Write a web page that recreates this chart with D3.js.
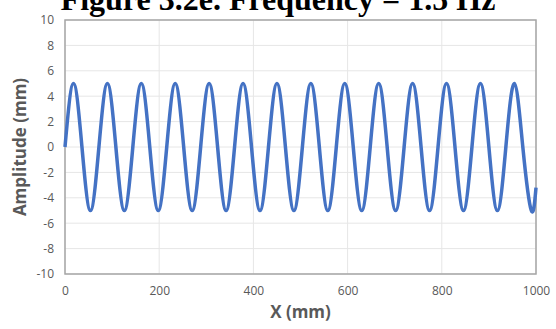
<!DOCTYPE html>
<html>
<head>
<meta charset="utf-8">
<script src="https://cdn.jsdelivr.net/npm/d3@7"></script>
<style>
  body { margin: 0; background: #fff; }
  svg { display: block; }
</style>
</head>
<body>
<svg id="chart"></svg>
<script>
// values: zero crossings, peaks and troughs every quarter period
const xValues = [0, 18, 36, 54, 72, 90, 108, 126, 144, 162, 180, 198, 216, 234, 252, 270,
  288, 306, 324, 342, 360, 378, 396, 414, 432, 450, 468, 486, 504, 522, 540, 558,
  576, 594, 612, 630, 648, 666, 684, 702, 720, 738, 756, 774, 792, 810, 828, 846,
  864, 882, 900, 918, 936, 954, 972, 990, 1000];
const amplitude = [0, 5, 0, -5, 0, 5, 0, -5, 0, 5, 0, -5, 0, 5, 0, -5,
  0, 5, 0, -5, 0, 5, 0, -5, 0, 5, 0, -5, 0, 5, 0, -5,
  0, 5, 0, -5, 0, 5, 0, -5, 0, 5, 0, -5, 0, 5, 0, -5,
  0, 5, 0, -5, 0, 5, 0, -5, -3.2];
const xTicks = [0, 200, 400, 600, 800, 1000];
const yTicks = [-10, -8, -6, -4, -2, 0, 2, 4, 6, 8, 10];

const W = 556, H = 329;
const margin = { top: 20, right: 20, bottom: 55, left: 65 };
const width = W - margin.left - margin.right;
const height = H - margin.top - margin.bottom;

const svg = d3.select('#chart').attr('width', W).attr('height', H);

const x = d3.scaleLinear().domain([0, 1000]).range([0, width]);
const y = d3.scaleLinear().domain([-10, 10]).range([height, 0]);

const g = svg.append('g').attr('transform', `translate(${margin.left},${margin.top})`);

// gridlines
g.append('g')
  .selectAll('line')
  .data(yTicks)
  .join('line')
  .attr('x1', 0).attr('x2', width)
  .attr('y1', d => y(d)).attr('y2', d => y(d))
  .attr('stroke', '#e6e6e6').attr('stroke-width', 1);

g.append('g')
  .selectAll('line')
  .data(xTicks)
  .join('line')
  .attr('y1', 0).attr('y2', height)
  .attr('x1', d => x(d)).attr('x2', d => x(d))
  .attr('stroke', '#e6e6e6').attr('stroke-width', 1);

// plot border
g.append('rect')
  .attr('width', width).attr('height', height)
  .attr('fill', 'none').attr('stroke', '#a6a6a6').attr('stroke-width', 1.5);

// axes
const yAxis = g.append('g')
  .call(d3.axisLeft(y).tickValues(yTicks).tickFormat(d => String(d)).tickSize(0).tickPadding(11));
const xAxis = g.append('g').attr('transform', `translate(0,${height})`)
  .call(d3.axisBottom(x).tickValues(xTicks).tickFormat(d => String(d)).tickSize(0).tickPadding(12));
[xAxis, yAxis].forEach(a => {
  a.select('.domain').remove();
  a.selectAll('text')
    .attr('fill', '#595959')
    .style('font-family', 'Open Sans, Liberation Sans, sans-serif')
    .style('font-size', '12px');
});

// the wave
const line = d3.line()
  .x((d, i) => x(xValues[i]))
  .y(d => y(d))
  .curve(d3.curveNatural);

g.append('path')
  .datum(amplitude)
  .attr('d', line)
  .attr('fill', 'none')
  .attr('stroke', '#4472c4')
  .attr('stroke-width', 3.5)
  .attr('stroke-linejoin', 'round');

// titles
svg.append('text')
  .attr('x', 278).attr('y', 10)
  .attr('text-anchor', 'middle')
  .style('font-family', 'Liberation Serif, Times New Roman, serif')
  .style('font-weight', 'bold')
  .style('font-size', '32px')
  .text('Figure 3.2e. Frequency = 1.5 Hz');

svg.append('text')
  .attr('x', margin.left + width / 2).attr('y', 318)
  .attr('text-anchor', 'middle')
  .attr('fill', '#595959')
  .style('font-family', 'Open Sans, Liberation Sans, sans-serif')
  .style('font-weight', 'bold')
  .style('font-size', '17px')
  .text('X (mm)');

svg.append('text')
  .attr('transform', `translate(26,${margin.top + height / 2}) rotate(-90)`)
  .attr('text-anchor', 'middle')
  .attr('fill', '#595959')
  .style('font-family', 'Open Sans, Liberation Sans, sans-serif')
  .style('font-weight', 'bold')
  .style('font-size', '17px')
  .text('Amplitude (mm)');
</script>
</body>
</html>
